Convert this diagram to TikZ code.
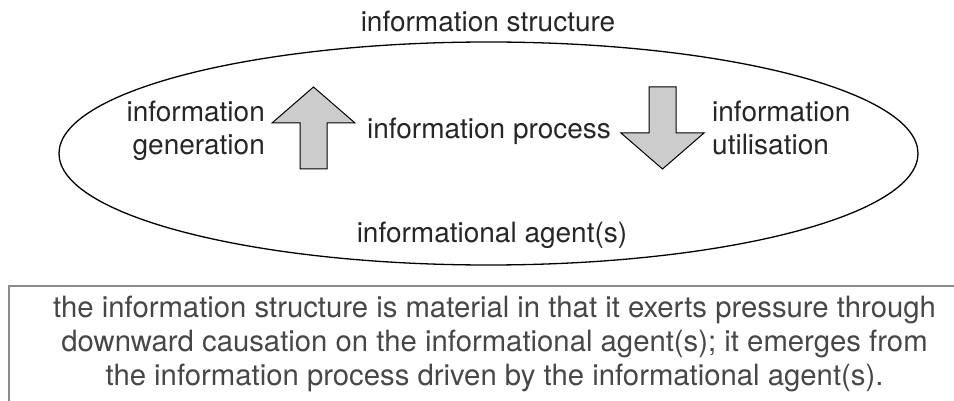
\documentclass[tikz,border=0pt]{standalone}
\usepackage{fontspec}
\setmainfont{TeX Gyre Heros}
\usepackage{tikz}
\usetikzlibrary{shapes}

\begin{document}
\begin{tikzpicture}
[x = 1pt, y = -1pt]
\tikzset{
	label text/.style = {inner sep = 0, font = \fontsize{28}{33}\selectfont, text = black!85},
	block arrow/.style = {draw, fill = black!20, line width = 1pt, line join = miter},
	caption text/.style = {inner sep = 0, font = \fontsize{29.3}{34}\selectfont, text = black!72, align = center}
}
\useasboundingbox (0,0) rectangle (954,401);

\node(agents) [ellipse, draw, line width = 1.3pt, minimum width = 859, minimum height = 223] at (488.5,153.5) {};

\node(structure) [label text, anchor = base] at (488,32) {information structure};
\node(process) [label text, anchor = base] at (489,139) {information process};
\node(generation) [label text, anchor = base east, align = right] at (265,155) {information\\generation};
\node(utilisation) [label text, anchor = base west, align = left] at (712,155) {information\\utilisation};
\node(agentlabel) [label text, anchor = base] at (492,243) {informational agent(s)};

% generation arrow (up) and utilisation arrow (down)
\filldraw [block arrow] (300,169) -- (300,123) -- (272,123) -- (313.5,87) -- (355,123) -- (327,123) -- (327,169) -- cycle;
\filldraw [block arrow] (649,87) -- (676,87) -- (676,133) -- (704,133) -- (662.5,169) -- (621,133) -- (649,133) -- cycle;

% caption box
\draw [black!45, line width = 1.2pt] (954,286) -- (9,286) -- (9,401);
\node(caption) [caption text, anchor = base] at (494.5,385) {the information structure is material in that it exerts pressure through\\
	downward causation on the informational agent(s); it emerges from\\
	the information process driven by the informational agent(s).};
\end{tikzpicture}
\end{document}
